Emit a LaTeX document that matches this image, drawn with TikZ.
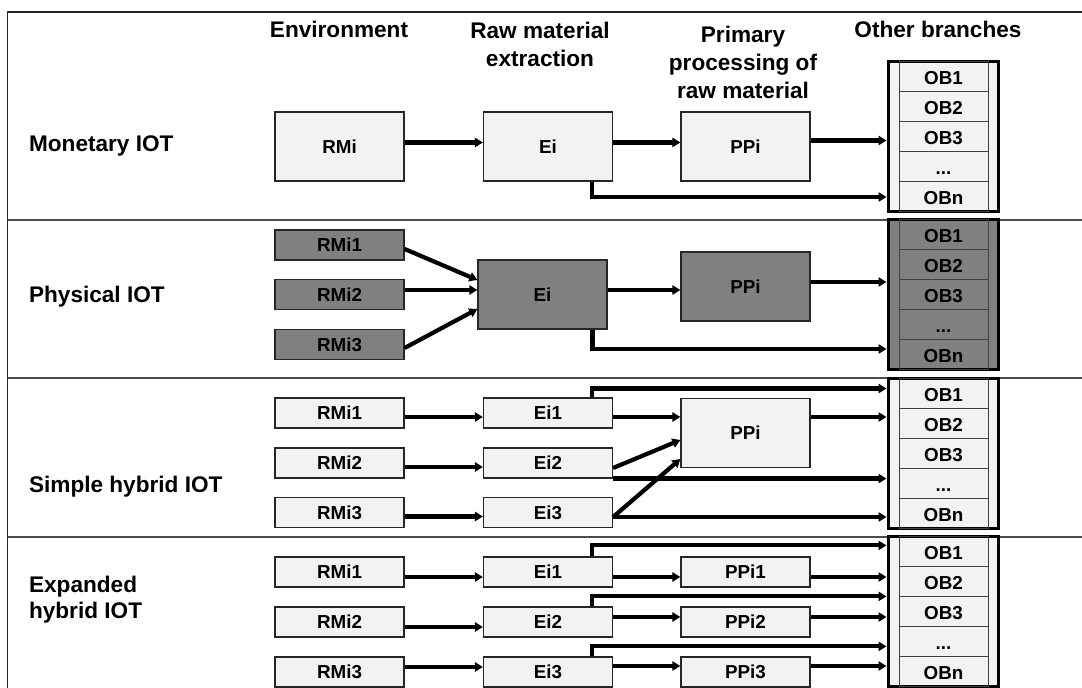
\documentclass[tikz,border=0pt]{standalone}
\usepackage{fontspec}
\setmainfont{Liberation Sans}
\usetikzlibrary{arrows.meta}
\tikzset{
  box/.style={draw=black!85, line width=0.6pt, fill=gray!10, minimum width=64.5pt, inner sep=1pt,
    font=\fontsize{9.4}{11}\selectfont\bfseries},
  big/.style={minimum height=34.5pt},
  small/.style={minimum height=15pt},
  dark/.style={fill=gray},
  flow/.style={line width=2.1pt, -{Triangle[length=4pt,width=4.6pt]}},
  title/.style={font=\fontsize{11.3}{14}\selectfont\bfseries, align=center},
  rowlabel/.style={font=\fontsize{11.3}{13}\selectfont\bfseries, align=left, anchor=west},
  obcol/.style={draw=black, line width=1.5pt, fill=gray!10, minimum width=55pt, minimum height=75pt, inner sep=0pt},
  obcell/.style={draw=black!75, line width=0.5pt, minimum width=44.5pt, minimum height=15pt, inner sep=0pt,
    text height=7.6pt, text depth=0pt, font=\fontsize{9.4}{11}\selectfont\bfseries}
}
\begin{document}
\begin{tikzpicture}[x=0.5pt, y=-0.5pt]
  \useasboundingbox (0,0) rectangle (1082,688);
  \clip (0,0) rectangle (1082,688);
  \draw[black!85, line width=0.6pt] (7.6,700) -- (7.6,12) -- (1100,12);
  \draw[black!70, line width=0.6pt] (7.6,220) -- (1100,220) (7.6,378) -- (1100,378) (7.6,537) -- (1100,537);

  \node[title] (env) at (339,29) {Environment};
  \node[title] (rme) at (540,44) {Raw material\\extraction};
  \node[title] (ppr) at (743,62) {Primary\\processing of\\raw material};
  \node[title] (obr) at (938,29) {Other branches};

  \node[rowlabel] (mon) at (22,146) {Monetary IOT};
  \node[rowlabel] (phy) at (22,297) {Physical IOT};
  \node[rowlabel] (shy) at (22,487) {Simple hybrid IOT};
  \node[rowlabel] (ehy) at (22,600) {Expanded\\hybrid IOT};

  \node[obcol] (obA) at (943,137) {};
  \node[obcell] (obA1) at (943.5,77) {OB1};
  \node[obcell] (obA2) at (943.5,107) {OB2};
  \node[obcell] (obA3) at (943.5,137) {OB3};
  \node[obcell] (obA4) at (943.5,167) {...};
  \node[obcell] (obAn) at (943.5,197) {OBn};

  \node[obcol, fill=gray] (obB) at (943,295) {};
  \node[obcell] (obB1) at (943.5,235) {OB1};
  \node[obcell] (obB2) at (943.5,265) {OB2};
  \node[obcell] (obB3) at (943.5,295) {OB3};
  \node[obcell] (obB4) at (943.5,325) {...};
  \node[obcell] (obBn) at (943.5,355) {OBn};

  \node[obcol] (obC) at (943,453.5) {};
  \node[obcell] (obC1) at (943.5,393.5) {OB1};
  \node[obcell] (obC2) at (943.5,423.5) {OB2};
  \node[obcell] (obC3) at (943.5,453.5) {OB3};
  \node[obcell] (obC4) at (943.5,483.5) {...};
  \node[obcell] (obCn) at (943.5,513.5) {OBn};

  \node[obcol] (obD) at (943,612) {};
  \node[obcell] (obD1) at (943.5,552) {OB1};
  \node[obcell] (obD2) at (943.5,582) {OB2};
  \node[obcell] (obD3) at (943.5,612) {OB3};
  \node[obcell] (obD4) at (943.5,642) {...};
  \node[obcell] (obDn) at (943.5,672) {OBn};

  \node[box, big] (rmiA) at (339.5,146.5) {RMi};
  \node[box, big] (eiA) at (548,146.5) {Ei};
  \node[box, big] (ppiA) at (745.5,146.5) {PPi};

  \node[box, small, dark] (rmiB1) at (339.5,245) {RMi1};
  \node[box, small, dark] (rmiB2) at (339.5,294.5) {RMi2};
  \node[box, small, dark] (rmiB3) at (339.5,344.5) {RMi3};
  \node[box, big, dark] (eiB) at (542.5,294.5) {Ei};
  \node[box, big, dark] (ppiB) at (745.5,286.5) {PPi};

  \node[box, small] (rmiC1) at (339.5,413) {RMi1};
  \node[box, small] (rmiC2) at (339.5,463) {RMi2};
  \node[box, small] (rmiC3) at (339.5,512.5) {RMi3};
  \node[box, small] (eiC1) at (548,413) {Ei1};
  \node[box, small] (eiC2) at (548,463) {Ei2};
  \node[box, small] (eiC3) at (548,512.5) {Ei3};
  \node[box, big] (ppiC) at (745.5,433) {PPi};

  \node[box, small] (rmiD1) at (339.5,572) {RMi1};
  \node[box, small] (rmiD2) at (339.5,622) {RMi2};
  \node[box, small] (rmiD3) at (339.5,672) {RMi3};
  \node[box, small] (eiD1) at (548,572) {Ei1};
  \node[box, small] (eiD2) at (548,622) {Ei2};
  \node[box, small] (eiD3) at (548,672) {Ei3};
  \node[box, small] (ppiD1) at (745.5,572) {PPi1};
  \node[box, small] (ppiD2) at (745.5,622) {PPi2};
  \node[box, small] (ppiD3) at (745.5,672) {PPi3};

  \begin{scope}[flow]
    \draw ([yshift=2pt]rmiA.east) -- ([yshift=2pt]eiA.west);
    \draw ([yshift=2pt]eiA.east) -- ([yshift=2pt]ppiA.west);
    \draw ([yshift=3pt]ppiA.east) -- ([yshift=3pt]ppiA.east -| obA.west);
    \draw ([xshift=22pt]eiA.south) |- (obA.west |- obAn);

    \draw ([yshift=-2pt]rmiB1.east) -- ([yshift=7.25pt]eiB.west);
    \draw ([yshift=2.25pt]rmiB2.east) -- ([yshift=2.25pt]eiB.west);
    \draw ([yshift=-1.75pt]rmiB3.east) -- ([yshift=-7.25pt]eiB.west);
    \draw ([yshift=2.25pt]eiB.east) -- ([yshift=2.25pt]eiB.east -| ppiB.west);
    \draw ([yshift=2.25pt]ppiB.east) -- ([yshift=2.25pt]ppiB.east -| obB.west);
    \draw ([xshift=25pt]eiB.south) |- ([yshift=3pt]obB.west |- obBn);

    \draw ([yshift=-2pt]rmiC1.east) -- ([yshift=-2pt]eiC1.west);
    \draw ([yshift=-2pt]rmiC2.east) -- ([yshift=-2pt]eiC2.west);
    \draw ([yshift=-2pt]rmiC3.east) -- ([yshift=-2pt]eiC3.west);
    \draw ([xshift=22pt]eiC1.north) |- ([yshift=2.5pt]obC.west |- obC1);
    \draw ([yshift=-2pt]eiC1.east) -- ([yshift=-2pt]eiC1.east -| ppiC.west);
    \draw ([yshift=-2.5pt]eiC2.east) -- ([yshift=-3.5pt]ppiC.west);
    \draw (eiC2.south east) -- (eiC2.south east -| obC.west);
    \draw ([yshift=-2.25pt]eiC3.east) -- ([yshift=-13pt]ppiC.west);
    \draw ([yshift=-2.25pt]eiC3.east) -- ([yshift=-2.25pt]eiC3.east -| obC.west);
    \draw ([yshift=8pt]ppiC.east) -- ([yshift=8pt]ppiC.east -| obC.west);

    \draw ([yshift=-2.5pt]rmiD1.east) -- ([yshift=-2.5pt]eiD1.west);
    \draw ([yshift=-2.5pt]rmiD2.east) -- ([yshift=-2.5pt]eiD2.west);
    \draw ([yshift=2.5pt]rmiD3.east) -- ([yshift=2.5pt]eiD3.west);
    \draw ([xshift=22pt]eiD1.north) |- ([yshift=5.5pt]eiD1.north -| obD.west);
    \draw ([xshift=22pt]eiD2.north) |- ([yshift=5pt]eiD2.north -| obD.west);
    \draw ([xshift=22pt]eiD3.north) |- ([yshift=5pt]eiD3.north -| obD.west);
    \draw ([yshift=-2.5pt]eiD1.east) -- ([yshift=-2.5pt]ppiD1.west);
    \draw ([yshift=2.5pt]eiD2.east) -- ([yshift=2.5pt]ppiD2.west);
    \draw ([yshift=3pt]eiD3.east) -- ([yshift=3pt]ppiD3.west);
    \draw ([yshift=-2.5pt]ppiD1.east) -- ([yshift=-2.5pt]ppiD1.east -| obD.west);
    \draw ([yshift=2.5pt]ppiD2.east) -- ([yshift=2.5pt]ppiD2.east -| obD.west);
    \draw ([yshift=3pt]ppiD3.east) -- ([yshift=3pt]ppiD3.east -| obD.west);
  \end{scope}
\end{tikzpicture}
\end{document}
